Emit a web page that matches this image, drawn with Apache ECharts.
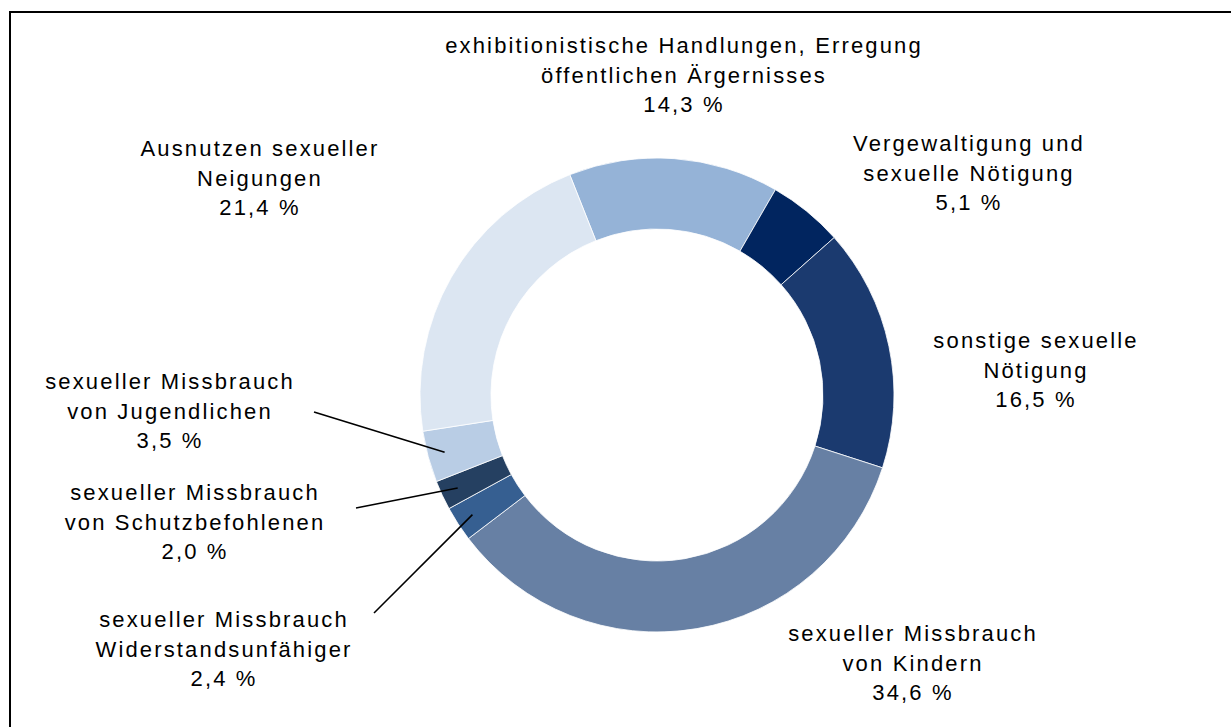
<!DOCTYPE html>
<html><head><meta charset="utf-8">
<script src="https://cdn.jsdelivr.net/npm/echarts@6/dist/echarts.min.js"></script>
<style>
html,body{margin:0;padding:0;background:#fff;}
#chart{width:1231px;height:727px;}
#chart svg text{letter-spacing:2.15px !important;}
</style></head><body>
<div id="chart"></div>
<script>
// ---- data ----
const categories = [
  'exhibitionistische Handlungen, Erregung\nöffentlichen Ärgernisses',
  'Vergewaltigung und\nsexuelle Nötigung',
  'sonstige sexuelle\nNötigung',
  'sexueller Missbrauch\nvon Kindern',
  'sexueller Missbrauch\nWiderstandsunfähiger',
  'sexueller Missbrauch\nvon Schutzbefohlenen',
  'sexueller Missbrauch\nvon Jugendlichen',
  'Ausnutzen sexueller\nNeigungen'
];
const shares = [14.3, 5.1, 16.5, 34.6, 2.4, 2.0, 3.5, 21.4];

// ---- styles / layout ----
const colors = ['#95B3D7', '#01255F', '#1B3A6F', '#6780A4', '#365F91', '#254061', '#B9CDE5', '#DCE6F2'];
const labelCenters = [[684, 75], [969, 173], [1036, 370], [913, 663], [224, 649], [195, 522], [170, 411], [260, 178]];
const leaderOffsets = [null, null, null, null, [150, -36], [161, -14], [144, 1], null];
const CX = 657, CY = 395, R0 = 166, R1 = 237, START = 111.6, LEADER_DEPTH = 0.76;

const total = shares.reduce((a, b) => a + b, 0);
function sliceMidPoint(i) {
  let cum = 0;
  for (let k = 0; k < i; k++) cum += shares[k];
  const deg = (90 - START) + (cum + shares[i] / 2) / total * 360;
  const rad = deg * Math.PI / 180;
  const r = R0 + (R1 - R0) * LEADER_DEPTH;
  return [CX + r * Math.sin(rad), CY - r * Math.cos(rad)];
}
const fmt = v => v.toFixed(1).replace('.', ',') + ' %';

const leaderLines = [];
shares.forEach((v, i) => {
  if (!leaderOffsets[i]) return;
  const c = labelCenters[i];
  const s = [c[0] + leaderOffsets[i][0], c[1] + leaderOffsets[i][1]];
  const e = sliceMidPoint(i);
  leaderLines.push({
    type: 'line', silent: true, z: 100,
    shape: {x1: s[0], y1: s[1], x2: e[0], y2: e[1]},
    style: {stroke: '#000', lineWidth: 1.6}
  });
});

const chart = echarts.init(document.getElementById('chart'), null, {renderer: 'svg'});
chart.setOption({
  animation: false,
  backgroundColor: '#fff',
  graphic: [{
    type: 'rect', silent: true, z: -10,
    shape: {x: 10, y: 12, width: 1400, height: 900},
    style: {fill: 'none', stroke: '#000', lineWidth: 2}
  }].concat(leaderLines),
  series: [{
    type: 'pie',
    center: [CX, CY],
    radius: [R0, R1],
    startAngle: START,
    clockwise: true,
    avoidLabelOverlap: false,
    silent: true,
    emphasis: {disabled: true},
    itemStyle: {borderColor: '#fff', borderWidth: 0.8},
    label: {
      show: true,
      position: 'outside',
      formatter: p => p.name + '\n' + fmt(p.value),
      color: '#000',
      fontFamily: '"Liberation Sans", Arial, sans-serif',
      fontSize: 22,
      lineHeight: 29.5,
      align: 'center'
    },
    labelLine: {show: false},
    labelLayout: function (p) {
      const c = labelCenters[p.dataIndex];
      return {x: c[0], y: c[1], align: 'center', verticalAlign: 'middle'};
    },
    data: categories.map((n, i) => ({
      name: n,
      value: shares[i],
      itemStyle: {color: colors[i]}
    }))
  }]
});
</script>
</body></html>
